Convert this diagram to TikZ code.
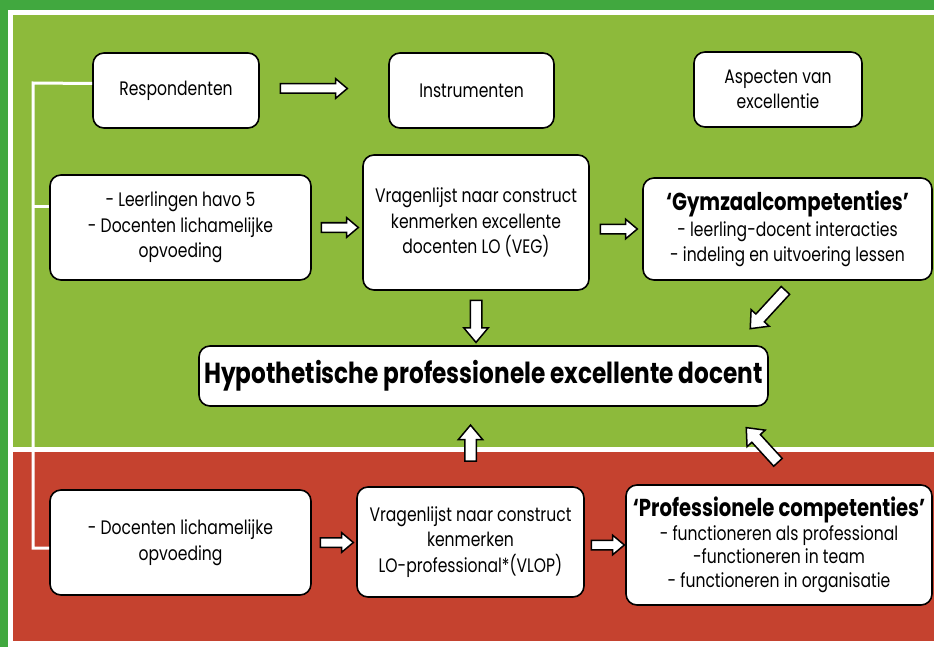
\documentclass[tikz,border=0pt]{standalone}
\usepackage{fontspec}
\setmainfont{Poppins}[FakeStretch=0.8]
\usetikzlibrary{shapes.arrows,calc}
\definecolor{outergreen}{HTML}{41A83F}
\definecolor{fieldgreen}{HTML}{8DBA3B}
\definecolor{fieldred}{HTML}{C5422F}
\begin{document}
\begin{tikzpicture}[x=1pt,y=-1pt,
  box/.style={draw=black, line width=1.6pt, fill=white, rounded corners=11pt,
    align=center, inner sep=2pt, font=\fontsize{19.5}{25.5}\selectfont},
  wire/.style={draw=white, line width=3pt},
  barrow/.style={single arrow, draw=black, fill=white, line width=1.5pt,
    inner xsep=0pt, inner ysep=4pt, single arrow head extend=5pt,
    single arrow tip angle=80, anchor=center},
  bigarrow/.style={barrow, inner ysep=5pt, single arrow head extend=6.5pt}
]
\useasboundingbox (0,0) rectangle (934,647);
% background
\fill[outergreen] (0,0) rectangle (934,647);
\fill[white] (8,10) rectangle (934,647);
\fill[fieldgreen] (13,15) rectangle (934,447);
\fill[fieldred] (13,452) rectangle (934,641);

% boxes
\node[box, minimum width=166, minimum height=75] (resp) at (176,90.5) {Respondenten};
\node[box, minimum width=165, minimum height=75] (instr) at (471.5,90.5) {Instrumenten};
\node[box, minimum width=168, minimum height=75] (asp) at (778,89.5) {Aspecten van\\excellentie};
\node[box, minimum width=261, minimum height=105] (leer) at (180.5,227.5) {- Leerlingen havo 5\\- Docenten lichamelijke\\opvoeding};
\node[box, minimum width=226, minimum height=135] (veg) at (476,222.5) {Vragenlijst naar construct\\kenmerken excellente\\docenten LO (VEG)};
\node[box, minimum width=289, minimum height=102] (gym) at (787.5,229) {{\bfseries\fontsize{24.5}{26}\selectfont ‘Gymzaalcompetenties’}\\- leerling-docent interacties\\- indeling en uitvoering lessen};
\node[box, minimum width=569, minimum height=60] (hyp) at (483.5,376) {\bfseries\fontsize{29}{32}\selectfont Hypothetische professionele excellente docent};
\node[box, minimum width=261, minimum height=105] (doc) at (180.5,542.5) {- Docenten lichamelijke\\opvoeding};
\node[box, minimum width=227, minimum height=110] (vlop) at (470.5,542) {Vragenlijst naar construct\\kenmerken\\LO-professional*(VLOP)};
\node[box, minimum width=306, minimum height=120, font=\fontsize{19.5}{23.5}\selectfont] (prof) at (779,545) {{\bfseries\fontsize{24.5}{25}\selectfont ‘Professionele competenties’}\\- functioneren als professional\\-functioneren in team\\- functioneren in organisatie};

% white wiring
\coordinate (busTop) at (33,83);
\coordinate (busBot) at (33,548);
\draw[wire] ([yshift=7pt]resp.west) -- (busTop) -- (busBot) -- (doc.west |- busBot);
\draw[wire] (busTop |- 0,207) -- (leer.west |- 0,207);

% block arrows
\path ([yshift=2pt]resp.east) -- node[barrow, minimum height=67, xshift=-13pt] (a1) {} ([yshift=2pt]instr.west);
\path (leer.east) -- node[barrow, minimum height=37] (a2) {} (veg.west |- leer.east);
\path (veg.east |- gym.west) -- node[barrow, minimum height=37] (a3) {} (gym.west);
\path (veg.south) -- node[bigarrow, minimum height=42, rotate=-90] (a4) {} (hyp.north -| veg.south);
\path (hyp.south -| vlop.north) -- node[bigarrow, minimum height=36, rotate=90] (a6) {} (vlop.north);
\node[bigarrow, minimum height=52, rotate=-132.6] (a5) at ($(gym.south)!0.5!(hyp.north east)+(-8,-6)$) {};
\node[bigarrow, minimum height=47, rotate=132.4] (a7) at ($(hyp.south east)!0.5!(prof.north)+(-9.5,2)$) {};
\path (doc.east) -- node[barrow, minimum height=33] (a8) {} (vlop.west |- doc.east);
\path (vlop.east |- prof.west) -- node[barrow, minimum height=33] (a9) {} (prof.west);
\end{tikzpicture}
\end{document}
